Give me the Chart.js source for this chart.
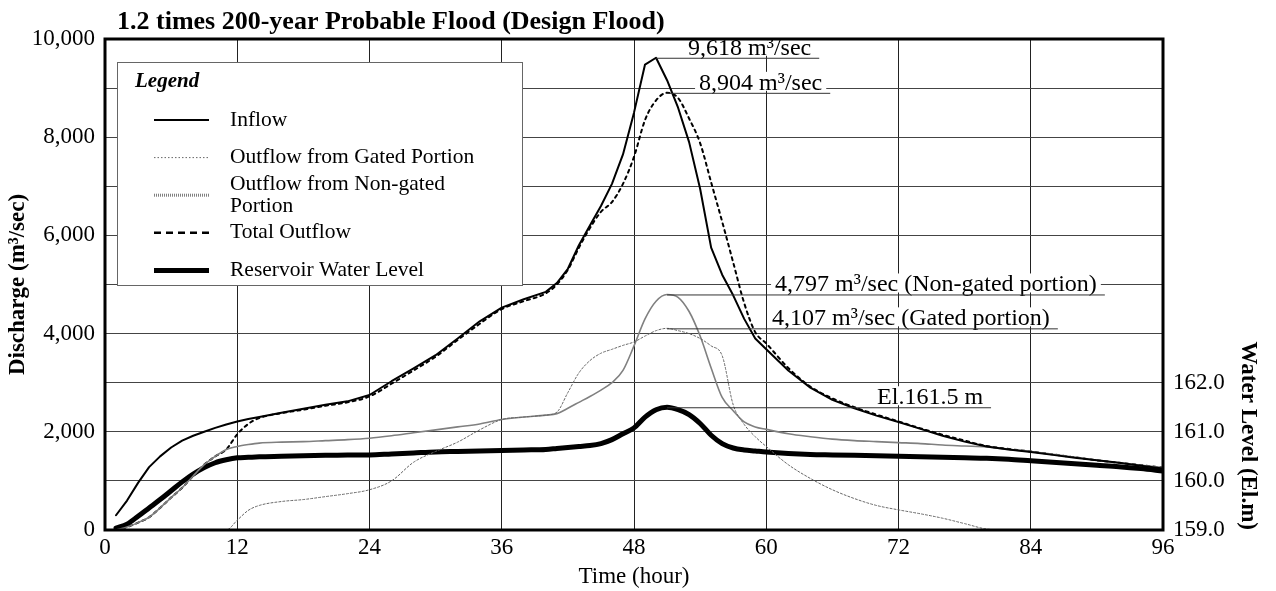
<!DOCTYPE html>
<html>
<head>
<meta charset="utf-8">
<title>1.2 times 200-year Probable Flood (Design Flood)</title>
<script src="https://cdn.jsdelivr.net/npm/chart.js@4.4.1/dist/chart.umd.min.js"></script>
<style>
  html, body { margin: 0; padding: 0; background: #fff; }
  #floodChart { display: block; }
</style>
</head>
<body>
<canvas id="floodChart" width="1276" height="591"></canvas>
<script>
// Flood routing hydrograph

const chartTitle = '1.2 times 200-year Probable Flood (Design Flood)';

const hours = [1, 2, 3, 4, 5, 6, 7, 8, 9, 10, 11, 12, 13, 14,
  16, 18, 20, 22, 24, 26, 28, 30, 32, 34, 36, 38, 40,
  41, 42, 43, 44, 45, 46, 47, 48, 49, 50, 51, 52, 53, 54, 55, 56, 57, 58, 59, 60,
  62, 64, 66, 68, 70, 72, 74, 76, 78, 80, 82, 84, 86, 88, 90, 92, 94, 96];

// discharge, m3/sec
const inflow = [300, 600, 960, 1280, 1500, 1680, 1820, 1920, 2000, 2080, 2150, 2210, 2260, 2300,
  2390, 2470, 2550, 2620, 2750, 3030, 3290, 3560, 3900, 4250, 4530, 4700, 4850,
  5030, 5320, 5800, 6200, 6600, 7050, 7650, 8500, 9480, 9618, 9160, 8600, 7900, 6950, 5750, 5200, 4780, 4300, 3900, 3680,
  3250, 2900, 2650, 2480, 2330, 2200, 2060, 1920, 1800, 1700, 1640, 1590, 1530, 1470, 1420, 1370, 1310, 1250];

const gatedOutflow = [0, 0, 0, 0, 0, 0, 0, 0, 0, 0, 0, 200, 400, 500,
  580, 620, 680, 740, 820, 1000, 1380, 1600, 1790, 2040, 2250, 2300, 2340,
  2400, 2800, 3200, 3450, 3600, 3680, 3760, 3830, 3950, 4060, 4107, 4060, 4000, 3900, 3750, 3550, 2550, 2150, 1900, 1700,
  1330, 1050, 820, 640, 500, 410, 330, 240, 130, 20, 0, 0, 0, 0, 0, 0, 0, 0];

const nonGatedOutflow = [0, 60, 150, 260, 450, 660, 860, 1100, 1330, 1500, 1640, 1700, 1740, 1770,
  1790, 1800, 1820, 1840, 1870, 1920, 1980, 2040, 2100, 2160, 2250, 2300, 2340,
  2370, 2480, 2600, 2720, 2850, 3000, 3250, 3750, 4300, 4660, 4797, 4740, 4450, 3950, 3300, 2700, 2430, 2200, 2100, 2050,
  1960, 1900, 1850, 1820, 1800, 1780, 1760, 1730, 1710, 1690, 1640, 1600, 1540, 1480, 1420, 1370, 1320, 1270];

const totalOutflow = [0, 60, 150, 260, 450, 660, 860, 1100, 1330, 1500, 1640, 1950, 2160, 2280,
  2380, 2450, 2530, 2600, 2720, 2980, 3250, 3530, 3870, 4200, 4500, 4660, 4820,
  5000, 5300, 5750, 6150, 6480, 6680, 7050, 7600, 8350, 8750, 8904, 8800, 8380, 7880, 7080, 6280, 5450, 4620, 4030, 3800,
  3300, 2920, 2680, 2500, 2350, 2210, 2070, 1940, 1820, 1710, 1650, 1600, 1540, 1480, 1420, 1370, 1320, 1270];

// reservoir water level, El.m
const waterLevel = [159.04, 159.12, 159.28, 159.45, 159.62, 159.80, 159.98, 160.14, 160.27, 160.37, 160.43, 160.47, 160.48, 160.49,
  160.50, 160.51, 160.52, 160.53, 160.53, 160.55, 160.57, 160.59, 160.60, 160.61, 160.62, 160.63, 160.64,
  160.66, 160.68, 160.70, 160.72, 160.76, 160.84, 160.96, 161.08, 161.30, 161.45, 161.50, 161.45, 161.35, 161.17, 160.93, 160.76, 160.67, 160.63, 160.61, 160.59,
  160.56, 160.54, 160.53, 160.52, 160.51, 160.50, 160.49, 160.48, 160.47, 160.46, 160.44, 160.41, 160.38, 160.35, 160.32, 160.29, 160.25, 160.20];

const hourTicks = [0, 12, 24, 36, 48, 60, 72, 84, 96];
const dischargeTicks = [0, 1000, 2000, 3000, 4000, 5000, 6000, 7000, 8000, 9000, 10000];
const levelTicks = [159.0, 160.0, 161.0, 162.0];

const seriesNames = ['Inflow', 'Outflow from Gated Portion', 'Outflow from Non-gated Portion', 'Total Outflow', 'Reservoir Water Level'];
const legendLines = [['Inflow'], ['Outflow from Gated Portion'], ['Outflow from Non-gated', 'Portion'], ['Total Outflow'], ['Reservoir Water Level']];

const SERIF = '"Liberation Serif", "Times New Roman", serif';

function points(values) {
  return hours.map((h, i) => ({ x: h, y: values[i] }));
}

function setTicks(list) {
  return function(scale) { scale.ticks = list.map(v => ({ value: v })); };
}

// peak call-outs: dataset index, text, gap between peak and text
const peakNotes = [
  { ds: 0, text: '9,618 m³/sec', dx: 32 },
  { ds: 3, text: '8,904 m³/sec', dx: 32 },
  { ds: 2, text: '4,797 m³/sec (Non-gated portion)', dx: 108 },
  { ds: 1, text: '4,107 m³/sec (Gated portion)', dx: 105 },
  { ds: 4, text: 'El.161.5 m', dx: 210 }
];

const notesPlugin = {
  id: 'peakNotes',
  afterDatasetsDraw(chart) {
    const ctx = chart.ctx;
    const xs = chart.scales.x;
    ctx.save();
    ctx.font = '24px ' + SERIF;
    ctx.textBaseline = 'alphabetic';
    peakNotes.forEach(n => {
      const ds = chart.data.datasets[n.ds];
      const vals = ds.data.map(p => p.y);
      const i = vals.indexOf(Math.max(...vals));
      const ys = chart.scales[ds.yAxisID || 'y'];
      const px = xs.getPixelForValue(ds.data[i].x);
      const py = ys.getPixelForValue(ds.data[i].y);
      const w = ctx.measureText(n.text).width;
      const tx = px + n.dx;
      const base = py - 3;
      ctx.fillStyle = '#fff';
      ctx.fillRect(tx - 4, base - 18, w + 8, 19);
      ctx.fillStyle = '#000';
      ctx.fillText(n.text, tx, base);
      ctx.strokeStyle = '#333';
      ctx.lineWidth = 1;
      ctx.beginPath();
      ctx.moveTo(px, py + 0.5);
      ctx.lineTo(tx + w + 8, py + 0.5);
      ctx.stroke();
    });
    ctx.restore();
  }
};

const legendPlugin = {
  id: 'boxLegend',
  afterDatasetsDraw(chart) {
    const ctx = chart.ctx;
    const a = chart.chartArea;
    const left = a.left + 12, top = a.top + 23, w = 405, h = 223;
    ctx.save();
    ctx.fillStyle = '#fff';
    ctx.fillRect(left, top, w, h);
    ctx.strokeStyle = '#666';
    ctx.lineWidth = 1;
    ctx.strokeRect(left + 0.5, top + 0.5, w, h);

    ctx.fillStyle = '#000';
    ctx.font = 'italic bold 21px ' + SERIF;
    ctx.textBaseline = 'alphabetic';
    ctx.fillText('Legend', left + 18, top + 25);

    ctx.font = '21.5px ' + SERIF;
    ctx.textBaseline = 'middle';
    chart.data.datasets.forEach((ds, i) => {
      const cy = top + 58 + i * 37.6;
      ctx.save();
      ctx.strokeStyle = ds.borderColor;
      ctx.lineWidth = ds.legendWidth || ds.borderWidth;
      ctx.setLineDash(ds.legendDash || ds.borderDash || []);
      ctx.beginPath();
      ctx.moveTo(left + 37, cy);
      ctx.lineTo(left + 92, cy);
      ctx.stroke();
      ctx.restore();
      const lines = legendLines[i];
      lines.forEach((t, k) => {
        ctx.fillText(t, left + 113, cy + (k - (lines.length - 1) / 2) * 22);
      });
    });
    ctx.restore();
  }
};

const framePlugin = {
  id: 'frame',
  afterDatasetsDraw(chart) {
    const ctx = chart.ctx;
    const a = chart.chartArea;
    ctx.save();
    ctx.strokeStyle = '#000';
    ctx.lineWidth = 3;
    ctx.strokeRect(a.left, a.top, a.right - a.left, a.bottom - a.top);
    ctx.restore();
  },
  afterDraw(chart) {
    const ctx = chart.ctx;
    ctx.save();
    ctx.fillStyle = '#000';
    ctx.font = 'bold 26px ' + SERIF;
    ctx.textBaseline = 'alphabetic';
    ctx.fillText(chartTitle, chart.chartArea.left + 12, 29);
    ctx.restore();
  }
};

const ctx = document.getElementById('floodChart').getContext('2d');

new Chart(ctx, {
  type: 'line',
  data: {
    datasets: [
      { label: seriesNames[0], data: points(inflow), borderColor: '#000', borderWidth: 2, tension: 0, cubicInterpolationMode: 'default' },
      { label: seriesNames[1], data: points(gatedOutflow), borderColor: '#666', borderWidth: 1, borderDash: [2, 2], legendDash: [1.5, 2], legendWidth: 1 },
      { label: seriesNames[2], data: points(nonGatedOutflow), borderColor: '#808080', borderWidth: 1.6, legendWidth: 3, legendDash: [1, 1] },
      { label: seriesNames[3], data: points(totalOutflow), borderColor: '#000', borderWidth: 2, borderDash: [3, 4], legendDash: [7, 5], legendWidth: 2.5 },
      { label: seriesNames[4], data: points(waterLevel), borderColor: '#000', borderWidth: 5, yAxisID: 'y2' }
    ]
  },
  options: {
    responsive: false,
    animation: false,
    layout: { padding: { top: 39, left: 0, right: 0, bottom: 0 } },
    elements: {
      point: { radius: 0, hoverRadius: 0 },
      line: { cubicInterpolationMode: 'monotone', fill: false, borderCapStyle: 'round', borderJoinStyle: 'round' }
    },
    plugins: {
      legend: { display: false },
      title: { display: false },
      tooltip: { enabled: false }
    },
    scales: {
      x: {
        type: 'linear',
        min: 0,
        max: 96,
        afterBuildTicks: setTicks(hourTicks),
        afterFit: s => { s.height = 61; },
        ticks: { color: '#000', font: { family: SERIF, size: 23 }, padding: 4, maxRotation: 0 },
        grid: { color: '#222', lineWidth: 1, drawTicks: false },
        border: { display: false },
        title: { display: true, text: 'Time (hour)', color: '#000', font: { family: SERIF, size: 23 }, padding: { top: 0, bottom: 0 } }
      },
      y: {
        type: 'linear',
        position: 'left',
        min: 0,
        max: 10000,
        afterBuildTicks: setTicks(dischargeTicks),
        afterFit: s => { s.width = 105; },
        ticks: {
          color: '#000',
          font: { family: SERIF, size: 23 },
          padding: 10,
          callback: v => (v % 2000 === 0 ? v.toLocaleString('en-US') : '')
        },
        grid: { color: '#444', lineWidth: 1, drawTicks: false },
        border: { display: false },
        title: { display: true, text: 'Discharge (m³/sec)', color: '#000', font: { family: SERIF, size: 23, weight: 'bold' }, padding: { top: 4, bottom: 0 } }
      },
      y2: {
        type: 'linear',
        position: 'right',
        min: 159,
        max: 169,
        afterBuildTicks: setTicks(levelTicks),
        afterFit: s => { s.width = 113; },
        ticks: { color: '#000', font: { family: SERIF, size: 23 }, padding: 10, callback: v => v.toFixed(1) },
        grid: { drawOnChartArea: false, drawTicks: false },
        border: { display: false },
        title: { display: true, text: 'Water Level (El.m)', align: 'start', color: '#000', font: { family: SERIF, size: 23, weight: 'bold' }, padding: { top: 14, bottom: 0 } }
      }
    }
  },
  plugins: [notesPlugin, legendPlugin, framePlugin]
});
</script>
</body>
</html>
